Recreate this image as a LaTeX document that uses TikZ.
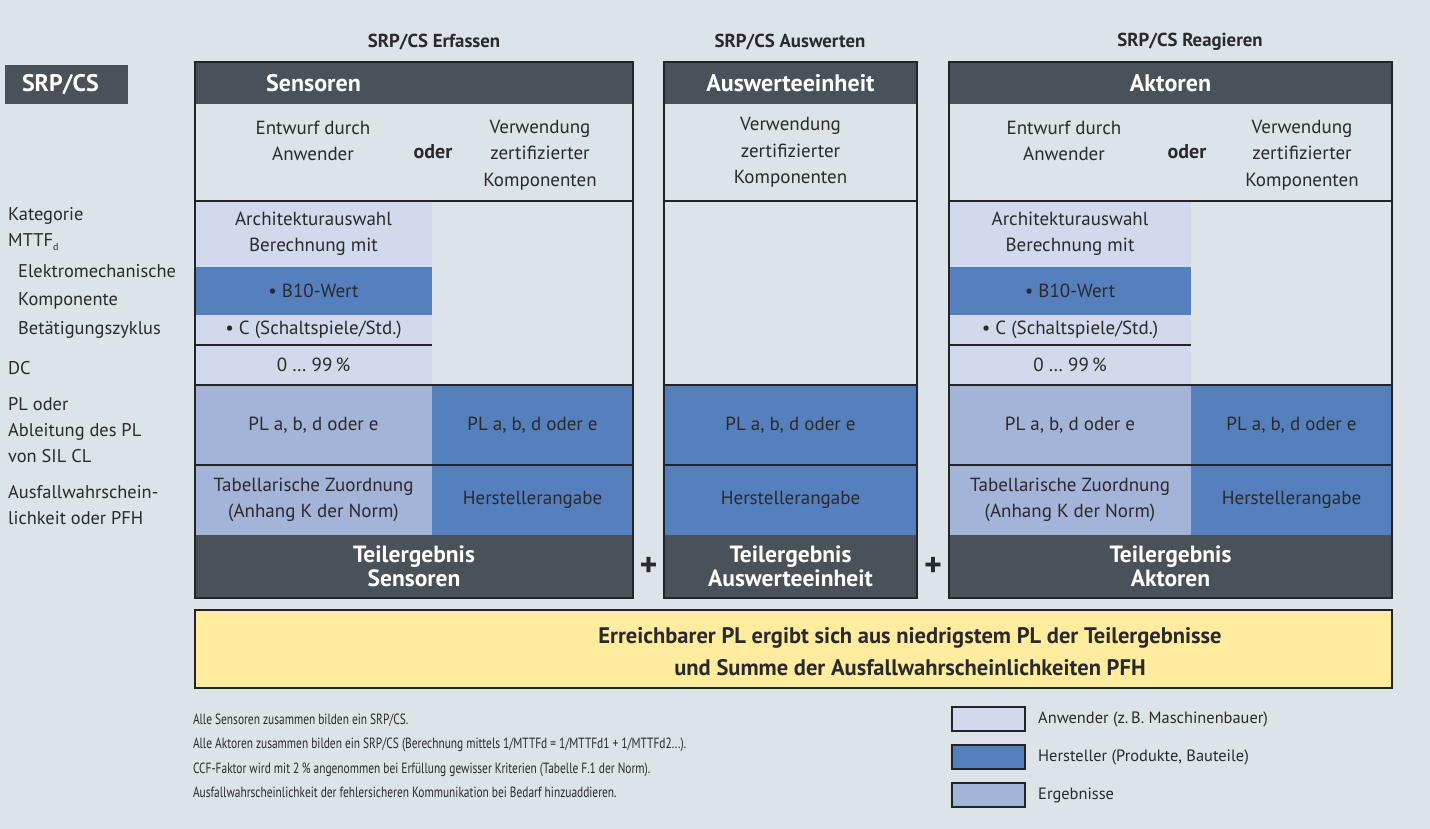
\documentclass[tikz,border=0pt]{standalone}
\usepackage{fontspec}
\setmainfont{PT Sans}
\newfontfamily\schmal[FakeStretch=0.77]{PT Sans}
\usetikzlibrary{positioning,calc}
\definecolor{grund}{HTML}{DCE3E9}
\definecolor{dunkel}{HTML}{4A5159}
\definecolor{anwender}{HTML}{D3D9EC}
\definecolor{hersteller}{HTML}{5580BD}
\definecolor{ergebnis}{HTML}{A4B3D8}
\definecolor{gelb}{HTML}{FFEC9E}
\definecolor{linie}{HTML}{222428}
\definecolor{schrift}{HTML}{2A2A2C}

\begin{document}
\begin{tikzpicture}[x=1pt, y=-1pt,
        feld/.style={anchor=north west, inner sep=0pt, outer sep=0pt, align=center, text=schrift, font=\fontsize{19}{26.5}\selectfont},
        kopf/.style={feld, fill=dunkel, text=white, font=\fontsize{24}{26}\selectfont\bfseries},
        teil/.style={feld, fill=dunkel, text=white, font=\fontsize{23.5}{24}\selectfont\bfseries},
        txt/.style={inner sep=0pt, align=center, text=schrift, font=\fontsize{19}{26.5}\selectfont},
        oder/.style={txt, font=\fontsize{20}{22}\selectfont\bfseries},
        spaltentitel/.style={inner sep=0pt, text=schrift, font=\fontsize{18.8}{22}\selectfont\bfseries},
        seite/.style={anchor=west, inner sep=0pt, align=left, text=schrift, font=\fontsize{18.4}{26}\selectfont},
        plus/.style={inner sep=0pt, text=schrift, font=\fontsize{34}{34}\selectfont\bfseries},
        trenn/.style={draw=linie, line width=1.8pt},
        duenn/.style={draw=linie, line width=1.4pt},
        legende/.style={feld, draw=linie, line width=1.4pt, minimum width=73pt, minimum height=24pt}
    ]
        % Hintergrund
        \fill[grund] (0,0) rectangle (1430,829);
        \useasboundingbox (0,0) rectangle (1430,829);

        \node[kopf, minimum width=123pt, minimum height=39pt, text width=89pt, inner xsep=17pt, align=left] (srp) at (5,65) {SRP/CS};

        \node[spaltentitel] (t-erfassen) at (434,42) {SRP/CS Erfassen};
        \node[spaltentitel] (t-auswerten) at (790,42) {SRP/CS Auswerten};
        \node[spaltentitel] (t-reagieren) at (1190,42) {SRP/CS Reagieren};

        % Beschriftung links
        \node[seite] (l-kat) at (8,229) {Kategorie\\MTTF\raisebox{-0.35ex}{\fontsize{10}{10}\selectfont d}};
        \node[seite, font=\fontsize{18.4}{28.5}\selectfont] (l-elektro) at (18,301) {Elektromechanische\\Komponente\\Betätigungszyklus};
        \node[seite] (l-dc) at (8,368) {DC};
        \node[seite] (l-pl) at (8,430) {PL oder\\Ableitung des PL\\von SIL CL};
        \node[seite] (l-pfh) at (8,505) {Ausfallwahrschein-\\lichkeit oder PFH};

        % Sensoren
        \node[kopf, minimum width=237pt, minimum height=42pt] (s-kopf) at (195,62) {Sensoren};
        \node[kopf, minimum width=201pt, minimum height=42pt] (s-kopf-r) at (s-kopf.north east) {};
        \node[feld, minimum width=438pt, minimum height=97pt] (s-wahl) at (s-kopf.south west) {};
        \node[txt] (s-entwurf) at (313,141) {Entwurf durch\\Anwender};
        \node[oder] (s-oder) at (433,152) {oder};
        \node[txt] (s-verw) at (540,155) {Verwendung\\zertifizierter\\Komponenten};
        \node[feld, fill=anwender, minimum width=237pt, minimum height=66pt] (s-arch) at (s-wahl.south west) {Architekturauswahl\\Berechnung mit};
        \node[feld, fill=hersteller, minimum width=237pt, minimum height=48pt] (s-b10) at (s-arch.south west) {• B10-Wert};
        \node[feld, fill=anwender, minimum width=237pt, minimum height=30pt] (s-c) at (s-b10.south west) {• C (Schaltspiele/Std.)};
        \node[feld, fill=anwender, minimum width=237pt, minimum height=40pt] (s-dc) at (s-c.south west) {0 … 99\,\%};
        \node[feld, fill=ergebnis, minimum width=237pt, minimum height=80pt] (s-pl) at (s-dc.south west) {PL a, b, d oder e};
        \node[feld, fill=hersteller, minimum width=201pt, minimum height=80pt] (s-pl-h) at (s-pl.north east) {PL a, b, d oder e};
        \node[feld, fill=ergebnis, minimum width=237pt, minimum height=70pt] (s-tab) at (s-pl.south west) {Tabellarische Zuordnung\\(Anhang K der Norm)};
        \node[feld, fill=hersteller, minimum width=201pt, minimum height=70pt] (s-tab-h) at (s-tab.north east) {Herstellerangabe};
        \node[teil, minimum width=438pt, minimum height=63pt] (s-teil) at (s-tab.south west) {Teilergebnis\\Sensoren};
        \draw[duenn] (s-c.south west) -- (s-c.south east);
        \draw[trenn] (s-wahl.south west) -- (s-wahl.south east);
        \draw[trenn] (s-pl.north west) -- (s-pl-h.north east);
        \draw[trenn] (s-tab.north west) -- (s-tab-h.north east);
        \draw[trenn] (s-kopf.north west) rectangle (s-teil.south east);

        % Auswerteeinheit
        \node[kopf, minimum width=253pt, minimum height=42pt] (a-kopf) at (664,62) {Auswerteeinheit};
        \node[feld, minimum width=253pt, minimum height=97pt] (a-wahl) at (a-kopf.south west) {Verwendung\\zertifizierter\\Komponenten};
        \node[feld, minimum width=253pt, minimum height=184pt] (a-leer) at (a-wahl.south west) {};
        \node[feld, fill=hersteller, minimum width=253pt, minimum height=80pt] (a-pl) at (a-leer.south west) {PL a, b, d oder e};
        \node[feld, fill=hersteller, minimum width=253pt, minimum height=70pt] (a-her) at (a-pl.south west) {Herstellerangabe};
        \node[teil, minimum width=253pt, minimum height=63pt] (a-teil) at (a-her.south west) {Teilergebnis\\Auswerteeinheit};
        \draw[trenn] (a-wahl.south west) -- (a-wahl.south east);
        \draw[trenn] (a-pl.north west) -- (a-pl.north east);
        \draw[trenn] (a-her.north west) -- (a-her.north east);
        \draw[trenn] (a-kopf.north west) rectangle (a-teil.south east);

        % Aktoren
        \node[kopf, minimum width=443pt, minimum height=42pt] (k-kopf) at (949,62) {Aktoren};
        \node[feld, minimum width=443pt, minimum height=97pt] (k-wahl) at (k-kopf.south west) {};
        \node[txt] (k-entwurf) at (1064,141) {Entwurf durch\\Anwender};
        \node[oder] (k-oder) at (1187,152) {oder};
        \node[txt] (k-verw) at (1302,155) {Verwendung\\zertifizierter\\Komponenten};
        \node[feld, fill=anwender, minimum width=242pt, minimum height=66pt] (k-arch) at (k-wahl.south west) {Architekturauswahl\\Berechnung mit};
        \node[feld, fill=hersteller, minimum width=242pt, minimum height=48pt] (k-b10) at (k-arch.south west) {• B10-Wert};
        \node[feld, fill=anwender, minimum width=242pt, minimum height=30pt] (k-c) at (k-b10.south west) {• C (Schaltspiele/Std.)};
        \node[feld, fill=anwender, minimum width=242pt, minimum height=40pt] (k-dc) at (k-c.south west) {0 … 99\,\%};
        \node[feld, fill=ergebnis, minimum width=242pt, minimum height=80pt] (k-pl) at (k-dc.south west) {PL a, b, d oder e};
        \node[feld, fill=hersteller, minimum width=201pt, minimum height=80pt] (k-pl-h) at (k-pl.north east) {PL a, b, d oder e};
        \node[feld, fill=ergebnis, minimum width=242pt, minimum height=70pt] (k-tab) at (k-pl.south west) {Tabellarische Zuordnung\\(Anhang K der Norm)};
        \node[feld, fill=hersteller, minimum width=201pt, minimum height=70pt] (k-tab-h) at (k-tab.north east) {Herstellerangabe};
        \node[teil, minimum width=443pt, minimum height=63pt] (k-teil) at (k-tab.south west) {Teilergebnis\\Aktoren};
        \draw[duenn] (k-c.south west) -- (k-c.south east);
        \draw[trenn] (k-wahl.south west) -- (k-wahl.south east);
        \draw[trenn] (k-pl.north west) -- (k-pl-h.north east);
        \draw[trenn] (k-tab.north west) -- (k-tab-h.north east);
        \draw[trenn] (k-kopf.north west) rectangle (k-teil.south east);

        \node[plus] (plus1) at ($(s-teil.east)!0.5!(a-teil.west)$) {+};
        \node[plus] (plus2) at ($(a-teil.east)!0.5!(k-teil.west)$) {+};

        % Ergebnis
        \node[feld, fill=gelb, draw=linie, line width=1.4pt, minimum width=1197pt, minimum height=78pt] (ziel) at (195,610) {};
        \node[txt, font=\fontsize{22.5}{32}\selectfont\bfseries] (ziel-text) at (910,652) {Erreichbarer PL ergibt sich aus niedrigstem PL der Teilergebnisse\\und Summe der Ausfallwahrscheinlichkeiten PFH};

        % Anmerkungen
        \node[feld, align=left, font=\schmal\fontsize{14.8}{24.3}\selectfont] (hinweis) at (193,714) {Alle Sensoren zusammen bilden ein SRP/CS.\\Alle Aktoren zusammen bilden ein SRP/CS (Berechnung mittels 1/MTTFd = 1/MTTFd1 + 1/MTTFd2...).\\CCF-Faktor wird mit 2\,\% angenommen bei Erfüllung gewisser Kriterien (Tabelle F.1 der Norm).\\Ausfallwahrscheinlichkeit der fehlersicheren Kommunikation bei Bedarf hinzuaddieren.};

        % Legende
        \node[legende, fill=anwender] (leg-anw) at (952,707) {};
        \node[legende, fill=hersteller] (leg-her) at (952,745) {};
        \node[legende, fill=ergebnis] (leg-erg) at (952,783) {};
        \node[seite, font=\fontsize{16.4}{18}\selectfont] (leg-anw-t) at ([xshift=13pt]leg-anw.east) {Anwender (z.\,B. Maschinenbauer)};
        \node[seite, font=\fontsize{16.4}{18}\selectfont] (leg-her-t) at ([xshift=13pt]leg-her.east) {Hersteller (Produkte, Bauteile)};
        \node[seite, font=\fontsize{16.4}{18}\selectfont] (leg-erg-t) at ([xshift=13pt]leg-erg.east) {Ergebnisse};

    \end{tikzpicture}
\end{document}
